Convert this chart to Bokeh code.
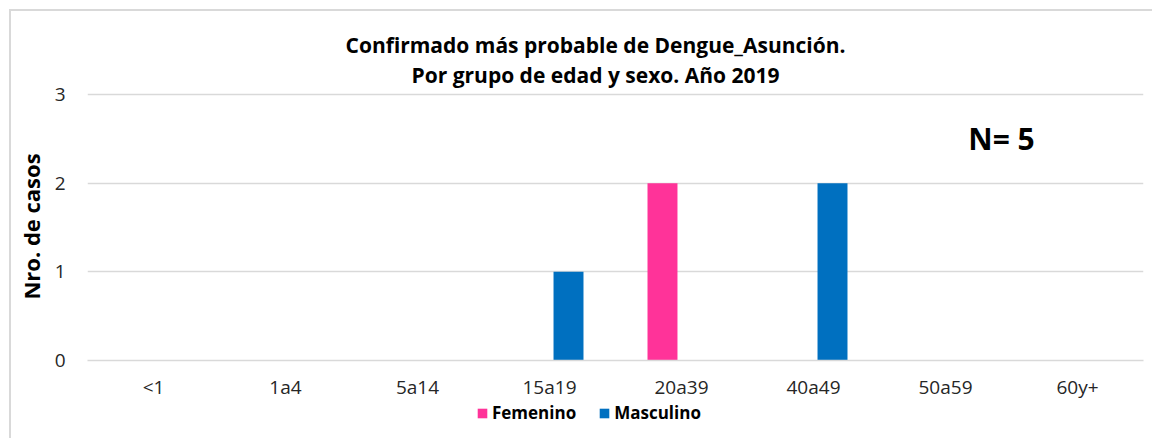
from bokeh.plotting import figure
from bokeh.models import Label, FixedTicker, Range1d, Legend, LegendItem, Column, ColumnDataSource
from bokeh.core.properties import value
from bokeh.transform import dodge
from bokeh.embed import file_html
from bokeh.resources import INLINE

categories = ["<1", "1a4", "5a14", "15a19", "20a39", "40a49", "50a59", "60y+"]
femenino = [0, 0, 0, 0, 2, 0, 0, 0]
masculino = [0, 0, 0, 1, 0, 2, 0, 0]
y_ticks = [0, 1, 2, 3]
title_lines = ["Confirmado más probable de Dengue_Asunción.",
               "Por grupo de edad y sexo. Año 2019"]
n_text = "N= 5"

FONT = "Open Sans"
GRID = "#d9d9d9"
PINK = "#FF3399"
BLUE = "#0070C0"
TICK_COLOR = "#262626"
W = 1141
BL, BR = 76, 9
FRAME_W = W - BL - BR
TITLE_H = 81
OVERLAP = 14
MAIN_H = 310 + OVERLAP
LEG_H = 36

source = ColumnDataSource(dict(cat=categories, fem=femenino, mas=masculino))

# ---- title strip ----
t = figure(width=W, height=TITLE_H, x_range=Range1d(0, FRAME_W), y_range=Range1d(0, TITLE_H),
           x_axis_type=None, y_axis_type=None, output_backend="svg", toolbar_location=None,
           min_border_left=BL, min_border_right=BR, min_border_top=0, min_border_bottom=0)
t.grid.visible = False
t.outline_line_color = None
t.text(x=[508, 508], y=[48, 18], text=title_lines, text_font=value(FONT),
       text_font_size="21px", text_font_style="bold", text_align="center",
       text_baseline="middle", text_color="#000000")

# ---- main chart (transparent, slightly overlapping the title strip) ----
p = figure(
    x_range=categories,
    y_range=Range1d(0, 3.0225),
    width=W, height=MAIN_H,
    output_backend="svg", toolbar_location=None,
    min_border_left=BL, min_border_top=OVERLAP, min_border_bottom=42, min_border_right=BR,
    styles={"margin-top": f"-{OVERLAP}px"},
)
p.outline_line_color = None
p.border_fill_color = None
p.background_fill_color = None

p.vbar(x=dodge("cat", -0.144, range=p.x_range), top="fem", width=0.227, bottom=0,
       source=source, fill_color=PINK, line_color=None)
p.vbar(x=dodge("cat", 0.144, range=p.x_range), top="mas", width=0.227, bottom=0,
       source=source, fill_color=BLUE, line_color=None)

p.xgrid.grid_line_color = None
p.ygrid.grid_line_color = GRID
p.ygrid.grid_line_width = 1.5
p.yaxis.ticker = FixedTicker(ticks=y_ticks)

p.yaxis.axis_line_color = None
p.yaxis.major_tick_line_color = None
p.yaxis.minor_tick_line_color = None
p.yaxis.major_tick_in = 0
p.yaxis.major_tick_out = 0
p.yaxis.major_label_standoff = 22
p.yaxis.major_label_text_font = FONT
p.yaxis.major_label_text_font_size = "19px"
p.yaxis.major_label_text_color = TICK_COLOR
p.yaxis.axis_label = "Nro. de casos"
p.yaxis.axis_label_text_font = FONT
p.yaxis.axis_label_text_font_size = "22px"
p.yaxis.axis_label_text_font_style = "bold"
p.yaxis.axis_label_text_color = "#000000"
p.yaxis.axis_label_standoff = 6

p.xaxis.axis_line_color = GRID
p.xaxis.axis_line_width = 1.5
p.xaxis.major_tick_line_color = None
p.xaxis.major_tick_in = 0
p.xaxis.major_tick_out = 0
p.xaxis.major_label_standoff = 13
p.xaxis.major_label_text_font = FONT
p.xaxis.major_label_text_font_size = "19px"
p.xaxis.major_label_text_color = TICK_COLOR

p.add_layout(Label(x=914, y=222, x_units="screen", y_units="screen", text=n_text,
                   text_font=FONT, text_font_size="30px", text_font_style="bold",
                   text_align="center", text_baseline="middle", text_color="#000000"))

# ---- legend strip (same series, kept out of view, only used for the legend) ----
lf = figure(width=W, height=LEG_H, x_range=p.x_range, y_range=Range1d(10, 11),
            x_axis_type=None, y_axis_type=None, output_backend="svg", toolbar_location=None,
            min_border_left=BL, min_border_right=BR, min_border_top=0, min_border_bottom=0)
lf.grid.visible = False
lf.outline_line_color = None
lr_fem = lf.vbar(x=dodge("cat", -0.144, range=p.x_range), top="fem", width=0.227, bottom=0,
                 source=source, fill_color=PINK, line_color=None)
lr_mas = lf.vbar(x=dodge("cat", 0.144, range=p.x_range), top="mas", width=0.227, bottom=0,
                 source=source, fill_color=BLUE, line_color=None)
lg = Legend(items=[LegendItem(label="Femenino", renderers=[lr_fem]),
                   LegendItem(label="Masculino", renderers=[lr_mas])],
            orientation="horizontal", location=(389, 14))
lg.padding = 0
lg.margin = 0
lg.spacing = 22
lg.glyph_width = 12
lg.glyph_height = 12
lg.label_standoff = 4
lg.label_height = 14
lg.label_text_font = FONT
lg.label_text_font_size = "17px"
lg.label_text_font_style = "bold"
lg.label_text_color = "#000000"
lg.border_line_color = None
lg.background_fill_alpha = 0
lf.add_layout(lg)

layout = Column(children=[t, p, lf], spacing=0,
                styles={"margin-left": "9px", "margin-top": "9px",
                        "border-top": "2px solid #d9d9d9", "border-left": "2px solid #d9d9d9"})

open("out.html", "w").write(file_html(layout, INLINE))
